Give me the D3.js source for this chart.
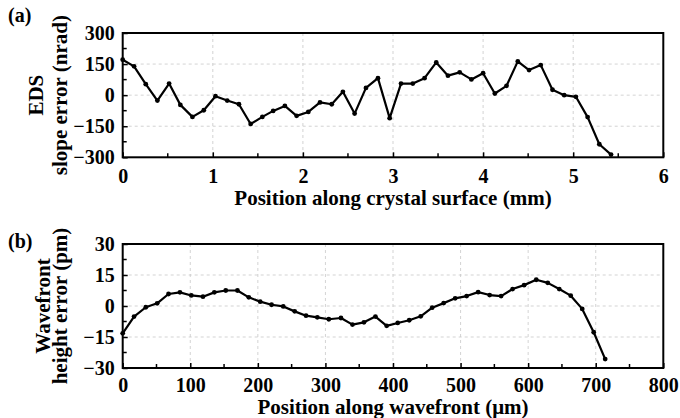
<!DOCTYPE html>
<html>
<head>
<meta charset="utf-8">
<script src="https://cdn.jsdelivr.net/npm/d3@7"></script>
<style>
  html, body { margin: 0; padding: 0; background: #fff; }
  svg { display: block; }
  text { font-family: "Liberation Serif", "Times New Roman", serif; font-weight: bold; fill: #000; }
</style>
</head>
<body>
<svg id="chart" width="680" height="418"></svg>
<script>
// panel (a): EDS slope error
const edsX = [0, 0.126, 0.256, 0.385, 0.515, 0.64, 0.774, 0.9, 1.03, 1.16, 1.29, 1.42, 1.55, 1.67, 1.8,
  1.93, 2.06, 2.19, 2.32, 2.444, 2.574, 2.70, 2.833, 2.963, 3.089, 3.22, 3.35, 3.48, 3.61, 3.74, 3.87,
  4.0, 4.13, 4.26, 4.385, 4.51, 4.64, 4.77, 4.9, 5.03, 5.16, 5.29, 5.42];
const edsY = [171, 139, 53, -26, 56, -47, -105, -73, -5, -26, -44, -139, -105, -76, -52,
  -100, -81, -35, -44, 16, -89, 35, 82, -111, 56, 56, 82, 158, 94, 110, 76,
  106, 8, 45, 163, 121, 145, 26, 0, -8, -106, -237, -287];
const edsXTicks = [0, 1, 2, 3, 4, 5, 6];
const edsYTicks = [-300, -150, 0, 150, 300];

// panel (b): wavefront height error
const wfX = [0, 16.8, 34.2, 51, 67.8, 84.7, 101.5, 118.8, 135.6, 152.5, 169.8, 186.6, 203.5, 220.3, 237.6,
  254.5, 271.3, 288, 305, 323, 340, 357, 374, 390.6, 407, 424, 441, 458, 475, 492, 509,
  526, 543, 560, 577, 594, 612, 629, 646, 663, 680, 697, 714];
const wfY = [-13.2, -5.1, -0.6, 1.3, 5.8, 6.6, 5.1, 4.5, 6.6, 7.5, 7.5, 4.2, 2.1, 0.6, -0.2,
  -2.6, -4.7, -5.5, -6.4, -5.8, -9.0, -7.9, -5.1, -9.6, -8.2, -6.9, -5.0, -0.8, 1.4, 3.7, 4.8,
  6.7, 5.3, 4.8, 8.2, 10.1, 12.7, 11.2, 8.2, 5.0, -1.4, -12.7, -25.7];
const wfXTicks = [0, 100, 200, 300, 400, 500, 600, 700, 800];
const wfYTicks = [-30, -15, 0, 15, 30];

const svg = d3.select('#chart');

function drawPanel(opt) {
  const { left, right, top, bottom } = opt;
  const x = d3.scaleLinear().domain(opt.xDomain).range([left, right]);
  const y = d3.scaleLinear().domain(opt.yDomain).range([bottom, top]);
  const g = svg.append('g');

  const xStep = opt.xTicks[1] - opt.xTicks[0];
  const yStep = opt.yTicks[1] - opt.yTicks[0];
  const xMinor = opt.xTicks.slice(0, -1).map((d) => d + xStep / 2);
  const yMinor = opt.yTicks.slice(0, -1).map((d) => d + yStep / 2);

  // dashed grid
  g.append('g')
    .selectAll('line')
    .data(opt.xTicks.slice(1, -1))
    .join('line')
    .attr('x1', (d) => x(d)).attr('x2', (d) => x(d))
    .attr('y1', top).attr('y2', bottom)
    .attr('stroke', '#c8c8c8').attr('stroke-width', 0.8).attr('stroke-dasharray', '3,3');
  g.append('g')
    .selectAll('line')
    .data(opt.yTicks.slice(1, -1))
    .join('line')
    .attr('x1', left).attr('x2', right)
    .attr('y1', (d) => y(d)).attr('y2', (d) => y(d))
    .attr('stroke', '#c8c8c8').attr('stroke-width', 0.8).attr('stroke-dasharray', '3,3');

  // axes with inward ticks
  const xAxis = g.append('g')
    .attr('transform', `translate(0,${bottom})`)
    .call(d3.axisBottom(x).tickValues(opt.xTicks).tickSize(-5).tickPadding(opt.xPad).tickFormat(d3.format('d')));
  const yAxis = g.append('g')
    .attr('transform', `translate(${left},0)`)
    .call(d3.axisLeft(y).tickValues(opt.yTicks).tickSize(-5).tickPadding(8).tickFormat(d3.format('d')));
  [xAxis, yAxis].forEach((ax) => {
    ax.select('.domain').remove();
    ax.selectAll('line').attr('stroke', '#000').attr('stroke-width', 1.5);
    ax.selectAll('text').attr('font-size', 20).attr('font-family', null).attr('fill', '#000');
  });
  xAxis.selectAll('text').attr('dy', '0.71em');

  // minor ticks
  g.append('g')
    .selectAll('line')
    .data(xMinor)
    .join('line')
    .attr('x1', (d) => x(d)).attr('x2', (d) => x(d))
    .attr('y1', bottom).attr('y2', bottom - 4)
    .attr('stroke', '#000').attr('stroke-width', 1.5);
  g.append('g')
    .selectAll('line')
    .data(yMinor)
    .join('line')
    .attr('x1', left).attr('x2', left + 4)
    .attr('y1', (d) => y(d)).attr('y2', (d) => y(d))
    .attr('stroke', '#000').attr('stroke-width', 1.5);

  // frame
  g.append('rect')
    .attr('x', left).attr('y', top)
    .attr('width', right - left).attr('height', bottom - top)
    .attr('fill', 'none').attr('stroke', '#000').attr('stroke-width', 2);

  // data line + markers
  const pts = opt.xs.map((d, i) => [d, opt.ys[i]]);
  g.append('path')
    .datum(pts)
    .attr('d', d3.line().x((d) => x(d[0])).y((d) => y(d[1])))
    .attr('fill', 'none').attr('stroke', '#000').attr('stroke-width', 2.2)
    .attr('stroke-linejoin', 'round');
  g.append('g')
    .selectAll('circle')
    .data(pts)
    .join('circle')
    .attr('cx', (d) => x(d[0])).attr('cy', (d) => y(d[1]))
    .attr('r', 2.4).attr('fill', '#000');

  // panel tag
  g.append('text').attr('x', 8).attr('y', opt.tagY).attr('font-size', 20).text(opt.tag);

  // axis titles
  g.append('text')
    .attr('x', (left + right) / 2).attr('y', opt.xTitleY)
    .attr('text-anchor', 'middle').attr('font-size', 21)
    .text(opt.xTitle);
  const cy = (top + bottom) / 2;
  opt.yTitle.forEach((line, i) => {
    g.append('text')
      .attr('transform', `translate(${opt.yTitleX[i]},${cy}) rotate(-90)`)
      .attr('text-anchor', 'middle').attr('font-size', 21)
      .text(line);
  });
}

drawPanel({
  left: 122.7, right: 663.3, top: 33, bottom: 157.3,
  xDomain: [0, 6], yDomain: [-300, 300],
  xTicks: edsXTicks, yTicks: edsYTicks, xPad: 12,
  xs: edsX, ys: edsY,
  tag: '(a)', tagY: 22,
  xTitle: 'Position along crystal surface (mm)', xTitleY: 205,
  yTitle: ['EDS', 'slope error (nrad)'], yTitleX: [43, 67],
});

drawPanel({
  left: 122.7, right: 663.3, top: 244, bottom: 368,
  xDomain: [0, 800], yDomain: [-30, 30],
  xTicks: wfXTicks, yTicks: wfYTicks, xPad: 10,
  xs: wfX, ys: wfY,
  tag: '(b)', tagY: 248,
  xTitle: 'Position along wavefront (\u03bcm)', xTitleY: 414,
  yTitle: ['Wavefront', 'height error (pm)'], yTitleX: [50, 67],
});
</script>
</body>
</html>
